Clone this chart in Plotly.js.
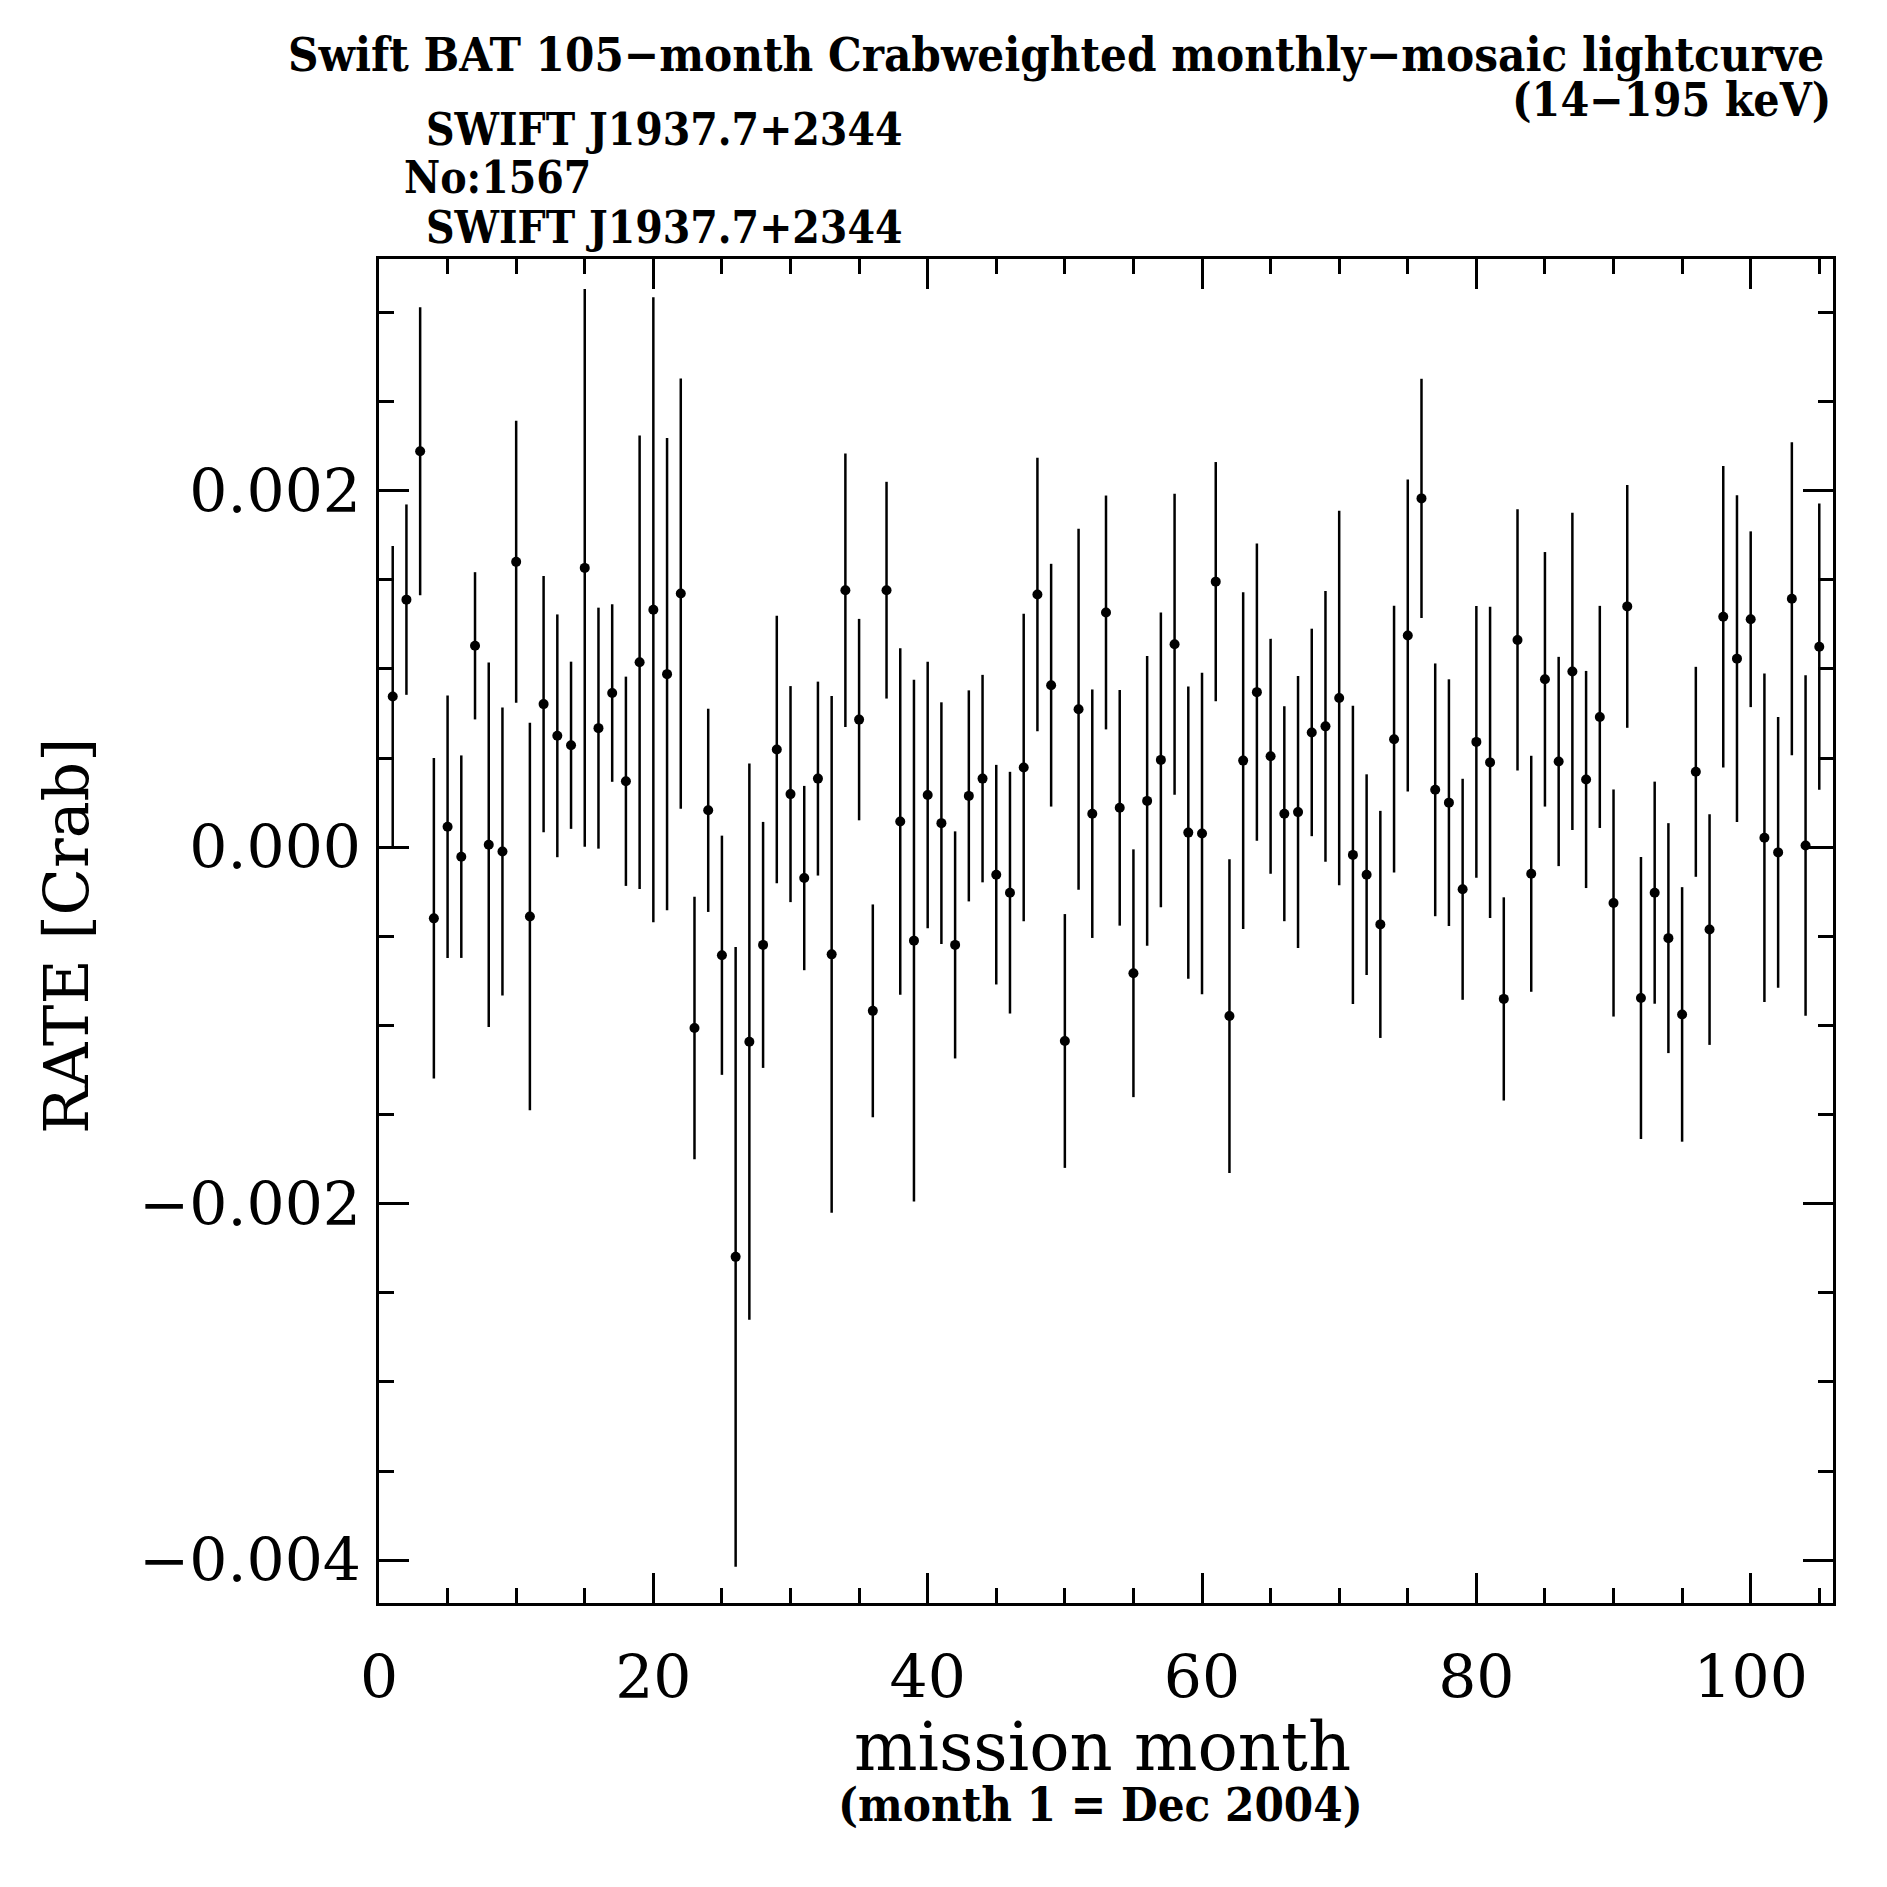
<!DOCTYPE html>
<html>
<head>
<meta charset="utf-8">
<script src="https://cdn.plot.ly/plotly-3.0.1.min.js"></script>
<style>html,body{margin:0;padding:0;background:#fff;}#chart{width:1887px;height:1887px;}</style>
</head>
<body>
<div id="chart"></div>
<script>
// mission month (month 1 = Dec 2004)
var months = [1,2,3,4,5,6,7,8,9,10,11,12,13,14,15,16,17,18,19,20,
  21,22,23,24,25,26,27,28,29,30,31,32,33,34,35,36,37,38,39,40,
  41,42,43,44,45,46,47,48,49,50,51,52,53,54,55,56,57,58,59,60,
  61,62,63,64,65,66,67,68,69,70,71,72,73,74,75,76,77,78,79,80,
  81,82,83,84,85,86,87,88,89,90,91,92,93,94,95,96,97,98,99,100,
  101,102,103,104,105];

// RATE [Crab]
var rate = [0.846e-3,1.389e-3,2.221e-3,-0.399e-3,0.115e-3,-0.053e-3,1.130e-3,0.014e-3,-0.024e-3,1.601e-3,
  -0.389e-3,0.803e-3,0.625e-3,0.572e-3,1.567e-3,0.668e-3,0.865e-3,0.370e-3,1.038e-3,1.332e-3,
  0.971e-3,1.423e-3,-1.014e-3,0.207e-3,-0.606e-3,-2.298e-3,-1.091e-3,-0.548e-3,0.548e-3,0.298e-3,
  -0.173e-3,0.385e-3,-0.601e-3,1.442e-3,0.716e-3,-0.918e-3,1.442e-3,0.144e-3,-0.524e-3,0.293e-3,
  0.135e-3,-0.548e-3,0.288e-3,0.385e-3,-0.154e-3,-0.255e-3,0.447e-3,1.418e-3,0.909e-3,-1.087e-3,
  0.774e-3,0.188e-3,1.317e-3,0.221e-3,-0.707e-3,0.260e-3,0.490e-3,1.139e-3,0.082e-3,0.077e-3,
  1.490e-3,-0.947e-3,0.486e-3,0.870e-3,0.510e-3,0.188e-3,0.197e-3,0.644e-3,0.678e-3,0.837e-3,
  -0.043e-3,-0.154e-3,-0.433e-3,0.606e-3,1.188e-3,1.957e-3,0.322e-3,0.250e-3,-0.236e-3,0.591e-3,
  0.476e-3,-0.851e-3,1.163e-3,-0.149e-3,0.942e-3,0.481e-3,0.986e-3,0.380e-3,0.731e-3,-0.313e-3,
  1.351e-3,-0.846e-3,-0.255e-3,-0.510e-3,-0.938e-3,0.423e-3,-0.462e-3,1.293e-3,1.058e-3,1.279e-3,
  0.053e-3,-0.029e-3,1.394e-3,0.010e-3,1.125e-3];

// 1-sigma error on RATE
var rateErr = [0.844e-3,0.534e-3,0.808e-3,0.899e-3,0.736e-3,0.568e-3,0.413e-3,1.022e-3,0.808e-3,0.791e-3,
  1.087e-3,0.719e-3,0.681e-3,0.469e-3,1.565e-3,0.676e-3,0.498e-3,0.587e-3,1.272e-3,1.753e-3,
  1.325e-3,1.207e-3,0.736e-3,0.570e-3,0.671e-3,1.738e-3,1.560e-3,0.690e-3,0.750e-3,0.606e-3,
  0.517e-3,0.544e-3,1.450e-3,0.767e-3,0.565e-3,0.597e-3,0.608e-3,0.972e-3,1.464e-3,0.748e-3,
  0.678e-3,0.637e-3,0.592e-3,0.582e-3,0.616e-3,0.678e-3,0.863e-3,0.767e-3,0.681e-3,0.712e-3,
  1.012e-3,0.697e-3,0.656e-3,0.661e-3,0.695e-3,0.813e-3,0.827e-3,0.844e-3,0.820e-3,0.902e-3,
  0.671e-3,0.880e-3,0.945e-3,0.834e-3,0.659e-3,0.603e-3,0.763e-3,0.582e-3,0.760e-3,1.051e-3,
  0.837e-3,0.563e-3,0.637e-3,0.748e-3,0.875e-3,0.671e-3,0.709e-3,0.692e-3,0.620e-3,0.762e-3,
  0.873e-3,0.570e-3,0.733e-3,0.662e-3,0.714e-3,0.587e-3,0.890e-3,0.609e-3,0.623e-3,0.637e-3,
  0.681e-3,0.791e-3,0.623e-3,0.645e-3,0.714e-3,0.589e-3,0.647e-3,0.846e-3,0.916e-3,0.493e-3,
  0.921e-3,0.760e-3,0.878e-3,0.955e-3,0.803e-3];

var titleLine1 = "Swift BAT 105\u2212month Crabweighted monthly\u2212mosaic lightcurve";
var titleLine2 = "(14\u2212195 keV)";
var sourceName = "SWIFT J1937.7+2344";
var sourceNo = "No:1567";
var xTitle = "mission month";
var xSubTitle = "(month 1 = Dec 2004)";
var yTitle = "RATE [Crab]";

function headFont(size){ return {family: "DejaVu Serif Condensed, DejaVu Serif, serif", size: size, color: "#000", weight: "bold"}; }
var tickFont = {family: "DejaVu Serif, serif", size: 60, color: "#000"};

// plot area in pixels: x 379..1833, y 259..1603
var L = 379, R = 1833, T = 259, B = 1603;
function px(x){ return (x - L) / (R - L); }
function py(y){ return (B - y) / (B - T); }

var trace = {
  x: months, y: rate,
  type: "scatter", mode: "markers",
  marker: {symbol: "circle", size: 10, color: "#000"},
  error_y: {type: "data", array: rateErr, visible: true, color: "#000", thickness: 2.5, width: 0},
  hoverinfo: "x+y"
};

var layout = {
  width: 1887, height: 1887,
  margin: {l: L, r: 1887 - R, t: T, b: 1887 - B, pad: 0},
  paper_bgcolor: "#fff", plot_bgcolor: "#fff",
  showlegend: false,
  xaxis: {
    range: [0, 106], showgrid: false, zeroline: false,
    showline: true, linecolor: "#000", linewidth: 3, mirror: "ticks",
    ticks: "inside", ticklen: 30, tickwidth: 3, tickcolor: "#000",
    tick0: 0, dtick: 20,
    minor: {dtick: 5, ticks: "inside", ticklen: 15, tickwidth: 3, tickcolor: "#000", showgrid: false},
    tickfont: tickFont, ticklabelstandoff: 20
  },
  yaxis: {
    range: [-0.00424, 0.0033], showgrid: false, zeroline: false,
    showline: true, linecolor: "#000", linewidth: 3, mirror: "ticks",
    ticks: "inside", ticklen: 30, tickwidth: 3, tickcolor: "#000",
    tick0: 0, dtick: 0.002, tickformat: ".3f",
    minor: {dtick: 0.0005, ticks: "inside", ticklen: 15, tickwidth: 3, tickcolor: "#000", showgrid: false},
    tickfont: tickFont, ticklabelstandoff: 3
  },
  annotations: [
    {text: titleLine1, xref: "paper", yref: "paper", x: px(1826), y: py(54), xanchor: "right", yanchor: "middle", showarrow: false, font: headFont(47)},
    {text: titleLine2, xref: "paper", yref: "paper", x: px(1833), y: py(100), xanchor: "right", yanchor: "middle", showarrow: false, font: headFont(46)},
    {text: sourceName, xref: "paper", yref: "paper", x: px(424), y: py(129), xanchor: "left", yanchor: "middle", showarrow: false, font: headFont(44)},
    {text: sourceNo, xref: "paper", yref: "paper", x: px(402), y: py(178), xanchor: "left", yanchor: "middle", showarrow: false, font: headFont(44)},
    {text: sourceName, xref: "paper", yref: "paper", x: px(424), y: py(228), xanchor: "left", yanchor: "middle", showarrow: false, font: headFont(44)},
    {text: xTitle, xref: "paper", yref: "paper", x: px(1102), y: py(1747), xanchor: "center", yanchor: "middle", showarrow: false, font: {family: "DejaVu Serif, serif", size: 67, color: "#000"}},
    {text: xSubTitle, xref: "paper", yref: "paper", x: px(1100), y: py(1804), xanchor: "center", yanchor: "middle", showarrow: false, font: headFont(47)},
    {text: yTitle, xref: "paper", yref: "paper", x: px(66), y: py(936), xanchor: "center", yanchor: "middle", textangle: -90, showarrow: false, font: {family: "DejaVu Serif, serif", size: 62, color: "#000"}}
  ]
};

Plotly.newPlot("chart", [trace], layout, {displayModeBar: false, staticPlot: true});
</script>
</body>
</html>
